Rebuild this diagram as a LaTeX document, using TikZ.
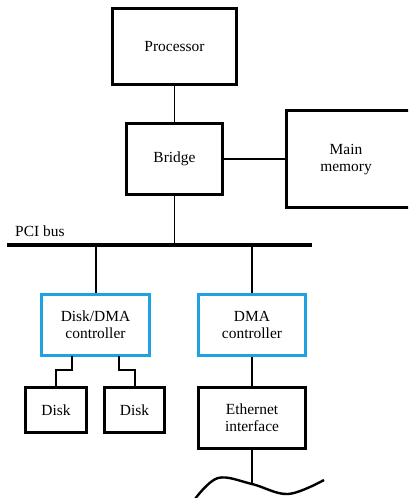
\documentclass[tikz,border=0pt]{standalone}
\usepackage{fontspec}
\setmainfont{Liberation Serif}
\newfontfamily\diagfont{Liberation Serif}
\begin{document}
\begin{tikzpicture}[x=1bp,y=-1bp,
  every node/.style={font=\diagfont\fontsize{15.5}{17}\selectfont, align=center, inner sep=0pt},
  blk/.style={draw=black, line width=3bp, fill=white},
  ctl/.style={draw=dmablue, line width=3bp, fill=white},
  wire/.style={line width=1.6bp},
  busline/.style={line width=3.5bp}]
\definecolor{dmablue}{RGB}{30,162,226}
\clip (0,0) rectangle (408,498);
% boxes
\node[blk, minimum width=124bp, minimum height=76bp] (proc) at (174.5,46.5) {Processor};
\node[blk, minimum width=96bp, minimum height=71bp] (bridge) at (174.5,159) {Bridge};
\node[blk, minimum width=140bp, minimum height=96bp] (mem) at (356.5,159) {};
\node (memtxt) at (346,160) {Main\\memory};
\node[ctl, minimum width=108bp, minimum height=61bp] (dctl) at (95.5,325) {Disk/DMA\\controller};
\node[ctl, minimum width=107bp, minimum height=61bp] (dma) at (252,325) {DMA\\controller};
\node[blk, minimum width=61bp, minimum height=45bp] (disk1) at (56,410) {Disk};
\node[blk, minimum width=60bp, minimum height=45bp] (disk2) at (134.5,410) {Disk};
\node[blk, minimum width=107bp, minimum height=61bp] (eth) at (252,418) {Ethernet\\interface};
% bus
\coordinate (busL) at (7,245);
\coordinate (busR) at (312,245);
\node[anchor=base west] (pcilbl) at (15,236) {PCI bus};
\coordinate (bbr) at (174.5,245);
\coordinate (bd1) at (96,245);
\coordinate (bd2) at (252,245);
\draw[wire] (proc.south) -- (bridge.north);
\draw[wire] (bridge.east) -- (mem.west);
\draw[wire] (bridge.south) -- (bbr);
\draw[wire] (bd1) -- (dctl.north -| bd1);
\draw[wire] (bd2) -- (dma.north);
\draw[busline] (busL) -- (busR);
% disk links
\coordinate (d1a) at (72,356);
\coordinate (d2a) at (119,356);
\coordinate (d2t) at (135,387.5);
\draw[wire] (d1a) -- (72,370) -- (56,370) -- (disk1.north);
\draw[wire] (d2a) -- (119,370) -- (135,370) -- (d2t);
% ethernet
\coordinate (wv) at (252,484);
\draw[wire] (dma.south) -- (eth.north);
\draw[wire] (eth.south) -- (wv);
\draw[line width=2.4bp] plot[smooth, tension=0.6] coordinates {(195,499) (218,478) (252,484) (288,494) (324,480)};
\end{tikzpicture}
\end{document}
